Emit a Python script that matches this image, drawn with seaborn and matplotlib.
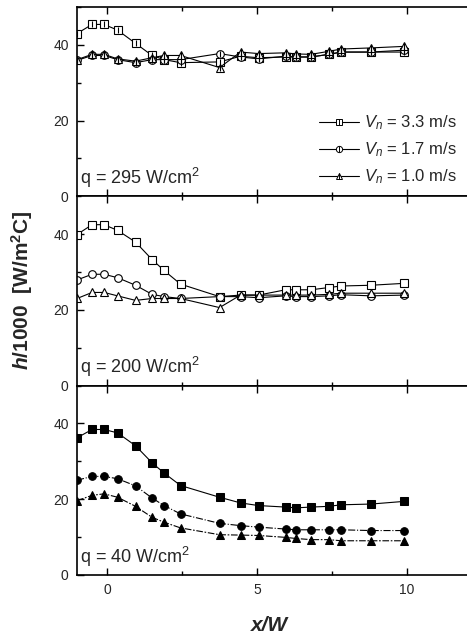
import numpy as np
import pandas as pd
import seaborn as sns
import matplotlib.pyplot as plt
from matplotlib.lines import Line2D
from matplotlib.ticker import MultipleLocator

sns.set_style("white")
plt.rcParams['font.family'] = ['Liberation Sans', 'DejaVu Sans']
plt.rcParams['mathtext.fontset'] = 'custom'
plt.rcParams['mathtext.rm'] = 'Liberation Sans'
plt.rcParams['mathtext.it'] = 'Liberation Sans:italic'
plt.rcParams['mathtext.bf'] = 'Liberation Sans:bold'
plt.rcParams['mathtext.bfit'] = 'Liberation Sans:italic:bold'

# x/W positions (same for every run)
xw = [-1.0, -0.5, -0.1, 0.35, 0.95, 1.5, 1.9, 2.45, 3.75, 4.45,
      5.05, 5.95, 6.3, 6.8, 7.4, 7.8, 8.8, 9.9]

# q = 295 W/cm2
h295_33 = [43.0, 45.4, 45.4, 43.9, 40.4, 37.2, 36.1, 35.3, 35.5, 37.0,
           36.6, 36.8, 36.8, 36.8, 37.5, 38.1, 38.1, 38.1]
h295_17 = [35.9, 37.2, 37.2, 36.1, 35.3, 36.1, 36.1, 36.1, 37.7, 36.8,
           36.3, 37.0, 36.8, 36.8, 37.5, 38.1, 38.1, 38.6]
h295_10 = [36.1, 37.5, 37.5, 36.3, 35.7, 36.6, 37.2, 37.2, 34.0, 38.1,
           37.7, 37.9, 37.6, 37.5, 38.3, 38.9, 39.2, 39.6]

# q = 200 W/cm2
h200_33 = [39.9, 42.5, 42.5, 41.0, 37.9, 33.3, 30.4, 26.8, 23.5, 23.9,
           23.9, 25.3, 25.3, 25.3, 25.9, 26.3, 26.5, 27.0]
h200_17 = [27.9, 29.4, 29.4, 28.5, 26.5, 24.1, 23.5, 23.0, 23.5, 23.5,
           23.2, 23.7, 23.5, 23.5, 23.7, 24.0, 23.7, 23.9]
h200_10 = [23.0, 24.6, 24.6, 23.7, 22.5, 23.0, 23.0, 23.0, 20.6, 23.9,
           23.9, 23.9, 23.9, 23.9, 24.1, 24.4, 24.4, 24.4]

# q = 40 W/cm2
h40_33 = [36.2, 38.4, 38.4, 37.5, 34.1, 29.6, 26.9, 23.6, 20.5, 19.0,
          18.3, 17.9, 17.7, 17.9, 18.1, 18.5, 18.7, 19.4]
h40_17 = [25.0, 26.0, 26.0, 25.4, 23.5, 20.3, 18.3, 16.1, 13.6, 13.0,
          12.6, 12.1, 11.9, 11.9, 11.9, 11.9, 11.7, 11.7]
h40_10 = [19.6, 21.0, 21.4, 20.5, 18.1, 15.2, 13.9, 12.4, 10.6, 10.5,
          10.4, 9.9, 9.6, 9.3, 9.3, 9.0, 9.0, 9.0]

speeds = ["3.3", "1.7", "1.0"]
markers = ["s", "o", "^"]
panels = [
    ("295", [h295_33, h295_17, h295_10]),
    ("200", [h200_33, h200_17, h200_10]),
    ("40", [h40_33, h40_17, h40_10]),
]

fig, axes = plt.subplots(3, 1, figsize=(4.67, 6.38), dpi=100, sharex=True)
fig.subplots_adjust(left=0.165, right=1.0, top=0.989, bottom=0.099, hspace=0)

for i, (ax, (q, series)) in enumerate(zip(axes, panels)):
    for j, (vals, mk) in enumerate(zip(series, markers)):
        if i == 0:
            # crossed markers
            sns.lineplot(x=xw, y=vals, ax=ax, color="k", lw=0.8, marker=mk,
                         markersize=5.5, markerfacecolor="white",
                         markeredgecolor="k", markeredgewidth=0.8)
            sns.scatterplot(x=xw, y=vals, ax=ax, marker="|", color="k",
                            s=18, linewidth=0.8, zorder=4)
        elif i == 1:
            sns.lineplot(x=xw, y=vals, ax=ax, color="k", lw=0.8, marker=mk,
                         markersize=5.5, markerfacecolor="white",
                         markeredgecolor="k", markeredgewidth=0.8)
        else:
            ls = ["-", "-.", (0, (6, 1.5, 1.5, 1.5))][j]
            sns.lineplot(x=xw, y=vals, ax=ax, color="k", lw=0.8, marker=mk,
                         linestyle=ls, markersize=5.5, markerfacecolor="k",
                         markeredgecolor="k")

    ax.set_xlim(-1, 12)
    ax.set_ylim(0, 50)
    ax.yaxis.set_major_locator(MultipleLocator(20))
    ax.yaxis.set_minor_locator(MultipleLocator(10))
    ax.xaxis.set_major_locator(MultipleLocator(5))
    ax.xaxis.set_minor_locator(MultipleLocator(2.5))
    ax.tick_params(which="both", direction="in", top=True, bottom=True,
                   left=True, right=False, color="k", width=1)
    ax.tick_params(which="major", length=5, labelsize=10, pad=6)
    ax.tick_params(which="minor", length=3)
    for side in ["top", "bottom", "left"]:
        ax.spines[side].set_color("k")
        ax.spines[side].set_linewidth(1.2)
    ax.spines["right"].set_visible(False)
    ax.set_ylabel("")
    ax.set_xlabel("")
    ax.text(0.008, 0.065, "q = " + q + " W/cm$^2$", transform=ax.transAxes,
            fontsize=13, ha="left", va="baseline")

axes[-1].set_xticks([0, 5, 10])
axes[-1].set_xticklabels(["0", "5", "10"])

# legend in the top panel
handles = []
for mk in markers:
    h1 = Line2D([], [], color="k", lw=0.8, marker=mk, markersize=4.5,
                markerfacecolor="white", markeredgewidth=0.7)
    h2 = Line2D([], [], color="k", lw=0, marker="|", markersize=4.5,
                markeredgewidth=0.7)
    handles.append((h1, h2))
labels = ["$V_n$ = " + s + " m/s" for s in speeds]
axes[0].legend(handles, labels, loc="lower right", bbox_to_anchor=(1.0, 0.0),
               frameon=False, fontsize=12, handlelength=2.4, handletextpad=0.3,
               labelspacing=0.5, borderaxespad=0.2, numpoints=1)

fig.text(0.047, 0.545, r"$\mathbfit{h}$/1000  [W/m$^{\mathbf{2}}$C]",
         rotation=90, ha="center", va="center", fontsize=15, fontweight="bold")
fig.text(0.578, 0.02, "x/W", ha="center", va="center", fontsize=15,
         fontweight="bold", fontstyle="italic")

fig.savefig("out.png", dpi=100)
